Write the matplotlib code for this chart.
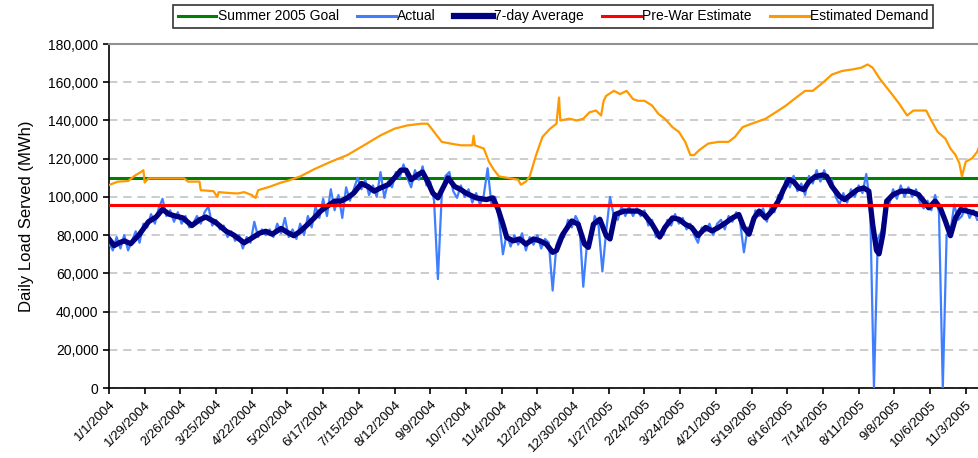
import matplotlib
matplotlib.use("Agg")
from matplotlib import pyplot as plt
import pandas as pd

plt.rcParams['font.family'] = ['Liberation Sans', 'DejaVu Sans']

START = pd.Timestamp("2004-01-01")

goal = 110000
pre_war = 96000

# days after 1/1/2004, values in thousands of MWh
actual_days = list(range(0, 684, 3))
actual_vals = [
    76, 72, 79, 73, 80, 72, 77, 82, 76, 86, 84, 91, 86, 94, 99, 90, 93, 87, 92, 86,
    90, 84, 86, 90, 86, 92, 95, 85, 88, 83, 85, 79, 82, 77, 80, 73, 79, 76, 87, 79,
    83, 80, 83, 79, 86, 81, 89, 79, 83, 78, 86, 80, 90, 84, 95, 89, 99, 90, 104, 93,
    101, 89, 105, 98, 104, 110, 104, 109, 101, 106, 100, 113, 99.5, 108, 105, 113, 110, 117, 110, 105,
    114, 109, 116, 106, 108, 98, 57, 101, 111, 113, 103, 99.5, 106, 100, 104, 97, 102, 96, 101, 115,
    96, 100, 88, 70, 81, 74, 80, 75, 81, 72, 79, 75, 80, 73, 78, 76, 51, 75, 80, 79,
    88, 84, 90, 86, 53, 76, 77, 90, 85, 61, 82, 100, 90, 88, 95, 90, 95, 90, 94, 90,
    93, 85, 88, 79, 81, 80, 88, 85, 91, 86, 89, 83, 86, 80, 76, 84, 82, 86, 80, 86,
    88, 83, 90, 87, 92, 87, 71, 84, 82, 93, 90, 94, 87, 95, 92, 101, 99, 110, 105, 111,
    103, 107, 101, 111, 107, 114, 108, 114, 108, 109, 100, 96, 102, 97, 104, 100, 106, 102, 112, 96,
    0, 78, 82, 95, 96, 104, 99, 106, 100, 105, 100, 104, 97, 94, 98, 93, 101, 92, 0, 80,
    82, 96, 88, 90, 95, 89, 93, 88,
]

avg_days = [
    0, 4, 8, 12, 17, 24, 31, 37, 42, 47, 52, 58, 65, 71, 76, 84, 92, 98, 106, 111,
    118, 123, 128, 135, 140, 145, 150, 156, 161, 166, 171, 177, 182, 187, 192, 198, 203, 208, 213, 219,
    224, 229, 233, 237, 242, 246, 250, 254, 258, 262, 266, 271, 276, 280, 288, 296, 301, 305, 309, 312,
    317, 322, 327, 333, 338, 343, 348, 351, 356, 363, 368, 373, 376, 380, 385, 390, 393, 397, 404, 411,
    415, 420, 426, 432, 436, 442, 447, 452, 457, 462, 468, 473, 478, 484, 489, 494, 498, 502, 506, 510,
    515, 520, 525, 529, 533, 537, 541, 545, 549, 554, 560, 563, 567, 573, 577, 582, 587, 592, 596, 599,
    602, 604, 607, 610, 615, 621, 628, 635, 639, 643, 648, 652, 656, 660, 664, 668, 673, 678, 685,
]
avg_vals = [
    78, 74.5, 76, 77, 75.5, 80.5, 87, 89.5, 93.5, 91, 90, 89, 85, 88, 89.5, 86.5, 82, 80, 76, 78,
    81, 82, 80.5, 83.5, 81.4, 79.7, 82, 85.7, 89, 92.6, 95, 97.8, 97.8, 99.5, 102, 107, 105.5, 103, 104.7, 106.4,
    110, 114, 114, 109, 111.5, 113, 108, 102, 99.5, 104.7, 110, 105.5, 103.8, 102, 99.5, 98.6, 99.5, 94, 85.7, 78.8,
    77, 78, 75.3, 78, 77, 75.3, 71, 72, 80.5, 87.4, 85.7, 75.3, 73.6, 85.7, 88.3, 79.7, 78, 90.8, 92.6, 92.6,
    92.6, 90.8, 85.7, 79, 84, 89, 88.3, 85.7, 84, 79.7, 84, 82.2, 84, 86.6, 89, 90.8, 84, 80.5, 89, 92.6,
    89, 92.6, 97.8, 103.8, 109, 108, 104.7, 103.8, 108, 110.7, 111.5, 110.7, 105.5, 100.3, 98.6, 101.2, 103.8, 104.7, 103, 85.7,
    72, 70.2, 80.5, 97.8, 101.2, 103, 103, 101.2, 97.8, 94.3, 97.8, 94.3, 87.4, 79.7, 89, 93.4, 92.6, 91.7, 90,
]

demand_days = [
    0, 7, 15, 20, 25, 27, 28, 31, 45, 59, 62, 71, 72, 82, 85, 86, 95, 101, 106, 112,
    115, 117, 126, 135, 140, 150, 161, 174, 187, 200, 213, 224, 234, 245, 250, 255, 261, 268, 276, 285,
    286, 287, 294, 298, 302, 306, 314, 321, 323, 327, 330, 335, 340, 346, 351, 353, 354, 361, 367, 372,
    377, 382, 386, 388, 390, 396, 401, 406, 411, 415, 420, 426, 431, 436, 442, 447, 452, 456, 459, 463,
    470, 478, 486, 491, 497, 504, 515, 523, 531, 539, 546, 552, 560, 567, 575, 583, 590, 595, 599, 604,
    610, 615, 620, 626, 631, 641, 645, 650, 656, 660, 664, 667, 669, 672, 677, 681, 685,
]
demand_vals = [
    106.2, 108, 108.3, 111, 113, 114, 107.5, 109.7, 109.7, 109.7, 108, 108, 103.5, 103, 100, 102.5, 102, 101.8, 102.5, 101,
    99.5, 103.5, 105.3, 107.5, 108.4, 110.7, 114.5, 118.4, 121.9, 127, 132.2, 135.7, 137.4, 138.3, 138.3, 134, 128.8, 127.9, 127, 127,
    132, 127, 125.3, 118.4, 114.1, 110.7, 109.8, 109, 106.4, 108, 110.7, 121.9, 131.4, 135.7, 138.3, 152, 140, 140.9, 140, 140.9,
    144.3, 145.2, 142.6, 150.3, 152.9, 155.5, 153.8, 155.5, 151.2, 150.3, 150.3, 147.8, 143.4, 140.9, 136.5, 134, 128.8, 121.9, 121.9, 124.5,
    127.9, 128.8, 128.8, 131.4, 136.5, 138.3, 140.9, 144.3, 147.8, 152, 155.5, 155.5, 159.8, 164, 165.9, 166.7, 167.6, 169.3, 167.6, 162.4,
    157.2, 153, 148.6, 142.6, 145.2, 145.2, 140, 134, 130.5, 125.3, 121.9, 117.6, 110.7, 118.4, 120.2, 123.6, 130.5,
]


def to_dates(days):
    return [START + pd.Timedelta(days=d) for d in days]


def to_mwh(vals):
    return [v * 1000 for v in vals]


fig = plt.figure(figsize=(9.79, 4.58), dpi=100)
ax = fig.add_axes([0.1113, 0.1528, 0.8887, 0.7511])

ax.axhline(goal, color="#008000", lw=2.2, label="Summer 2005 Goal", zorder=2)
ax.plot(to_dates(actual_days), to_mwh(actual_vals), color="#3f7fff", lw=1.6, label="Actual", zorder=3)
ax.plot(to_dates(avg_days), to_mwh(avg_vals), color="#000080", lw=3.8, label="7-day Average",
        solid_joinstyle="round", zorder=4)
ax.axhline(pre_war, color="#ff0000", lw=2.2, label="Pre-War Estimate", zorder=5)
ax.plot(to_dates(demand_days), to_mwh(demand_vals), color="#ff9900", lw=1.6, label="Estimated Demand", zorder=6)

ax.set_ylim(0, 180000)
ax.set_yticks(range(0, 180001, 20000))
ax.set_yticklabels([f"{v:,}" for v in range(0, 180001, 20000)], fontsize=10)
ax.set_ylabel("Daily Load Served (MWh)", fontsize=12, labelpad=10)

tick_dates = [START + pd.Timedelta(days=28 * i) for i in range(25)]
ax.set_xticks(tick_dates)
ax.set_xticklabels([f"{d.month}/{d.day}/{d.year}" for d in tick_dates], rotation=45,
                   ha="right", va="top", rotation_mode="anchor", fontsize=9.5)
ax.set_xlim(START, START + pd.Timedelta(days=682.4))

ax.grid(axis="y", color="#c4c4c4", linestyle=(0, (5, 3.5)), lw=1.2)
ax.set_axisbelow(True)
ax.tick_params(direction="out", length=4, width=1.2, color="black")
ax.spines["left"].set_linewidth(1.2)
ax.spines["bottom"].set_linewidth(1.2)
ax.spines["top"].set_color("#909090")
ax.spines["top"].set_linewidth(1.5)
ax.spines["right"].set_visible(False)

leg = ax.legend(loc="center", bbox_to_anchor=(0.565, 0.964), bbox_transform=fig.transFigure,
                ncol=5, fontsize=10, frameon=True, fancybox=False, edgecolor="black",
                handlelength=2.8, handletextpad=0.1, columnspacing=1.3, borderpad=0.3)
leg.get_frame().set_linewidth(1.2)
for line in leg.get_lines():
    line.set_linewidth(2.2 if line.get_label() != "7-day Average" else 4.5)

fig.savefig("out.png", dpi=100)
